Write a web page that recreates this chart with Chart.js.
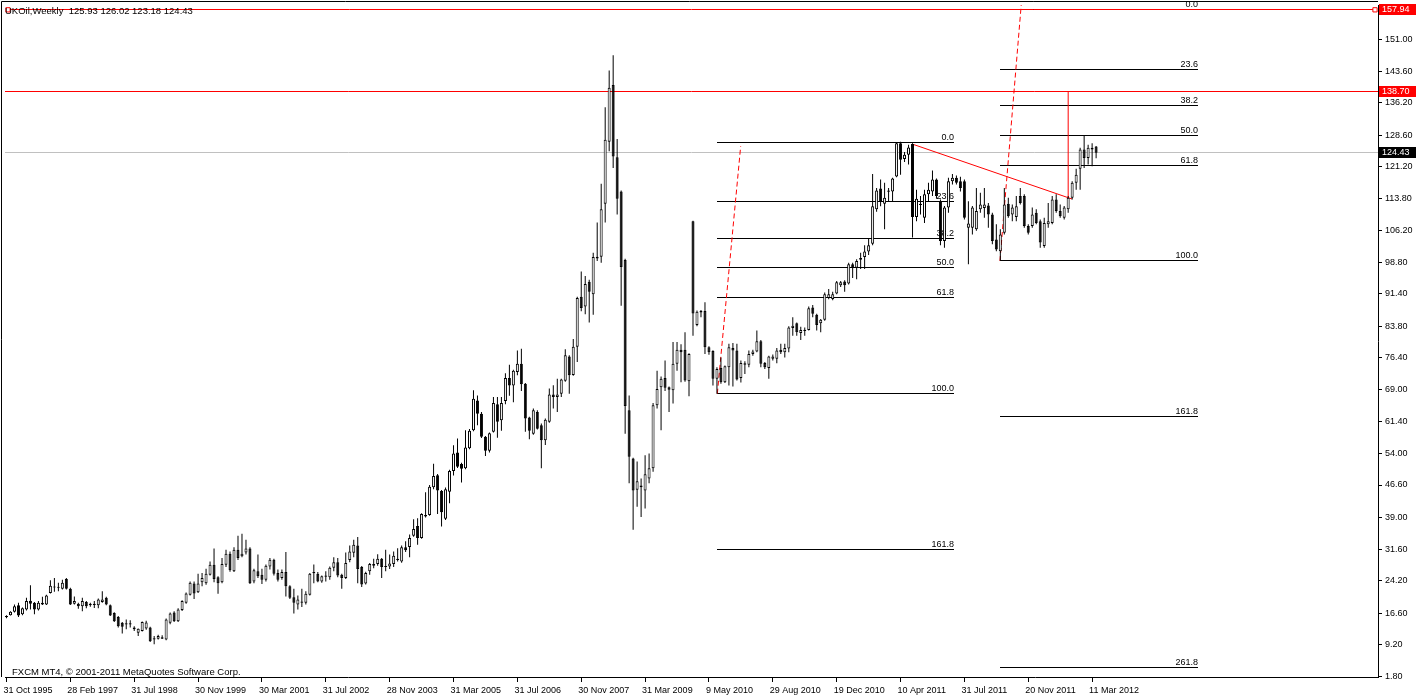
<!DOCTYPE html>
<html>
<head>
<meta charset="utf-8">
<title>UKOil Weekly</title>
<script src="https://cdn.jsdelivr.net/npm/chart.js@4.4.1/dist/chart.umd.min.js"></script>
<style>
  html, body { margin: 0; padding: 0; background: #fff; overflow: hidden; }
  canvas { display: block; }
</style>
</head>
<body>
<canvas id="chart" width="1416" height="697"></canvas>
<script>
// Candle values, one entry per bar (monthly bars first, weekly bars from 2010)
const opens = [
  15.6,16.1,16.9,18.4,16.3,17.4,19.5,19.0,17.4,18.6,
  18.6,21.3,22.6,22.5,22.3,24.6,22.3,18.8,18.8,18.2,
  19.2,18.4,18.5,18.4,19.2,20.2,18.4,16.6,15.7,14.3,
  13.9,14.2,13.2,12.0,12.4,13.0,13.2,10.4,10.6,10.9,
  10.4,14.3,16.7,14.7,17.3,19.0,20.9,23.5,21.5,23.8,
  23.6,25.6,27.9,25.0,23.8,27.9,30.5,26.4,31.4,29.9,
  30.8,31.7,24.0,26.4,25.6,24.4,27.5,29.1,26.0,24.8,
  26.2,22.9,20.3,18.6,19.3,19.0,20.9,26.2,25.8,24.0,
  25.4,25.0,27.2,28.5,25.6,24.8,29.0,30.7,32.4,27.4,
  23.5,26.4,27.7,28.1,29.3,27.6,27.5,28.1,29.3,28.7,
  32.0,32.1,34.7,37.0,34.2,39.6,39.6,46.1,48.9,45.2,
  38.7,45.0,49.9,54.2,51.5,50.5,55.2,59.4,66.4,63.3,
  57.9,54.6,59.1,65.5,61.8,66.3,71.7,69.9,73.1,75.0,
  70.3,62.4,58.6,63.7,60.6,57.1,61.4,67.8,67.2,68.0,
  71.0,76.7,72.4,79.0,90.7,88.4,94.2,91.3,99.7,100.1,
  112.5,127.0,140.3,123.4,115.4,99.3,64.1,52.8,45.5,46.1,
  45.3,48.1,50.5,65.3,69.5,71.7,69.5,68.8,75.0,78.3,
  78.3,70.9,108.4,84.1,87.4,87.4,78.9,78.0,71.5,74.0,
  70.7,74.2,78.7,78.1,71.7,74.8,74.8,77.3,77.9,80.3,
  75.2,74.0,76.2,76.2,78.3,77.7,78.6,83.4,84.5,82.2,
  83.0,82.9,88.2,86.5,84.5,85.3,90.4,90.2,91.5,93.4,
  94.3,93.8,98.3,97.5,99.4,100.0,101.3,103.1,111.2,116.1,
  112.5,115.3,115.4,118.9,126.7,123.0,124.0,126.5,109.4,112.2,
  109.2,114.7,115.4,118.2,113.1,103.8,111.6,117.8,118.6,117.8,
  117.8,106.9,106.9,106.5,111.2,111.5,112.1,110.0,104.1,101.4,
  105.7,112.5,110.0,109.4,114.3,114.3,107.3,107.3,110.4,108.4,
  102.6,107.7,108.0,113.5,110.8,109.2,111.2,113.9,117.4,120.7,
  125.2,123.2,125.2,125.93
];
const highs = [
  16.1,17.0,18.6,19.0,17.9,20.2,23.1,19.2,19.4,20.4,
  20.9,24.3,24.8,23.7,24.4,24.8,22.5,20.5,19.0,20.2,
  19.4,19.0,19.4,20.0,21.7,20.4,18.6,16.8,15.9,14.5,
  15.1,14.9,13.5,13.0,14.6,14.8,13.4,11.2,11.5,11.4,
  15.3,16.7,17.0,17.7,19.6,21.4,24.0,24.0,25.8,26.0,
  27.0,28.7,31.7,25.2,29.5,31.4,31.0,32.0,34.7,35.2,
  33.8,32.0,27.0,30.3,27.0,28.0,29.5,29.3,26.8,26.8,
  30.9,23.1,22.3,20.7,22.3,21.7,26.0,28.0,26.2,25.4,
  26.4,27.5,29.7,29.5,25.8,30.8,32.4,33.8,34.4,27.6,
  26.3,28.3,29.3,30.4,29.5,31.4,30.3,31.0,31.8,32.4,
  33.4,35.0,38.6,38.8,40.0,44.9,46.6,51.6,49.2,45.4,
  46.0,50.2,55.9,57.5,51.8,59.4,59.7,68.8,67.6,63.7,
  58.1,58.9,67.2,67.2,67.2,72.8,74.8,73.6,78.1,78.5,
  70.5,62.6,64.5,64.1,61.0,62.2,69.2,70.0,71.5,71.5,
  78.4,77.0,80.8,90.7,96.6,95.6,94.7,101.0,108.1,117.2,
  135.1,143.7,147.3,127.7,115.6,99.6,67.6,53.0,52.1,48.1,
  53.6,54.0,65.8,73.4,72.0,75.8,69.7,80.1,80.1,79.6,
  82.4,77.5,108.5,87.5,87.6,89.4,79.1,78.2,74.2,76.5,
  74.6,79.7,79.9,79.7,75.8,75.6,78.1,78.3,82.8,80.6,
  75.4,76.9,77.2,78.7,79.7,79.7,83.8,85.9,84.7,83.7,
  83.5,88.4,88.8,86.7,85.5,91.7,92.5,91.9,94.4,94.4,
  94.6,98.7,98.7,99.5,101.0,102.8,104.4,119.5,116.2,118.2,
  117.4,116.2,118.6,126.9,127.0,124.6,126.3,126.7,115.8,114.3,
  115.8,117.4,120.3,118.4,113.5,112.0,118.6,119.5,119.1,118.8,
  118.2,113.1,112.0,116.2,115.1,116.2,112.7,110.4,107.7,106.5,
  116.2,113.9,112.3,114.3,116.2,114.7,107.7,111.6,111.2,108.8,
  109.2,112.7,114.3,114.7,112.3,112.0,114.3,117.8,120.7,125.6,
  128.5,126.3,126.7,126.02
];
const lows = [
  15.4,16.0,16.7,15.7,16.1,17.2,17.4,16.3,17.2,18.5,
  18.5,21.2,21.6,21.7,22.1,22.1,18.5,18.6,17.6,17.0,
  17.7,18.1,17.8,17.7,19.0,18.4,15.9,14.5,13.2,11.8,
  12.8,13.2,12.4,11.2,12.3,12.7,9.8,9.3,10.4,10.5,
  10.2,14.0,14.5,14.5,17.1,18.8,20.7,19.9,21.3,22.9,
  23.2,25.4,23.8,21.1,23.6,27.4,26.3,26.2,29.0,29.7,
  30.3,23.4,23.6,24.8,23.4,24.0,26.8,25.4,24.0,24.4,
  20.5,19.9,16.5,17.4,18.0,18.6,20.7,23.6,23.8,23.7,
  24.0,24.4,26.4,25.0,22.3,24.6,28.5,29.7,23.6,22.7,
  23.3,25.6,27.1,27.7,24.8,26.4,26.9,27.4,28.7,28.4,
  30.9,29.7,34.5,32.6,34.0,39.0,39.4,45.6,39.8,36.9,
  38.4,42.3,48.8,50.6,47.2,50.3,55.0,59.2,60.6,57.6,
  53.4,54.2,58.9,57.7,59.3,65.5,67.5,66.0,72.3,68.6,
  59.1,57.3,58.4,59.6,50.5,56.0,61.2,64.5,63.7,67.2,
  70.8,68.0,72.2,75.4,87.3,86.6,84.7,86.5,99.1,98.7,
  108.1,124.8,120.9,110.0,88.6,58.6,47.0,36.1,41.5,39.1,
  41.1,47.0,49.7,64.5,59.4,68.6,63.7,65.7,73.4,70.7,
  70.8,67.4,81.6,83.8,85.9,77.3,77.1,69.9,68.0,70.3,
  70.5,69.9,69.7,71.1,70.6,72.6,74.2,76.9,77.7,74.2,
  73.8,71.5,75.8,75.1,77.3,76.5,77.7,81.6,81.6,80.6,
  81.6,82.8,85.9,82.8,82.4,85.1,90.1,89.9,91.3,93.0,
  91.9,93.6,95.1,94.8,97.2,97.2,100.5,102.8,110.6,111.9,
  106.5,113.1,113.1,118.7,119.3,122.3,121.7,104.6,108.4,110.0,
  108.0,113.1,114.3,113.7,102.8,102.2,110.4,117.0,117.0,115.4,
  108.8,98.3,105.3,106.2,110.4,109.2,106.9,103.0,101.4,99.1,
  105.3,109.2,108.4,108.4,112.3,106.9,105.3,106.9,107.7,102.2,
  102.2,106.9,107.7,110.4,109.2,108.8,110.4,113.5,115.8,115.8,
  120.9,121.7,121.3,123.18
];
const closes = [
  15.9,16.9,18.2,16.0,17.7,19.4,18.8,17.4,19.0,19.0,
  20.7,23.0,22.8,22.7,23.7,22.3,18.6,19.4,18.2,19.4,
  18.2,18.8,18.8,19.8,19.8,18.6,16.0,14.7,13.5,13.4,
  14.2,13.9,12.8,12.9,14.5,14.4,10.0,10.7,11.2,10.6,
  15.1,16.5,14.7,17.4,19.4,21.2,23.7,21.2,23.5,24.8,
  25.8,27.9,24.6,23.6,28.1,30.5,26.6,31.4,29.5,30.5,
  31.7,23.6,26.6,25.2,24.4,27.7,29.1,25.8,24.4,26.2,
  22.9,20.2,19.0,19.8,19.0,21.1,25.8,25.9,24.0,25.2,
  25.1,27.2,28.5,25.4,24.8,28.3,31.0,32.6,26.9,23.3,
  26.0,28.1,28.1,29.3,27.4,27.4,28.2,30.0,29.0,32.0,
  31.3,34.2,36.3,34.2,39.8,39.2,46.2,48.7,45.3,40.2,
  45.6,49.9,54.0,50.9,50.4,55.4,59.3,66.8,63.3,57.9,
  54.6,58.7,65.8,61.4,65.8,71.7,69.9,73.4,75.0,70.2,
  62.2,59.3,64.1,59.8,57.1,61.9,67.8,67.2,67.8,71.3,
  77.0,72.3,79.0,90.4,88.1,93.7,91.9,100.0,100.1,111.2,
  127.5,139.7,123.6,113.7,97.7,65.1,53.2,45.3,47.5,46.5,
  49.1,50.5,65.3,69.1,71.5,69.4,68.9,75.0,78.3,77.7,
  71.1,77.3,86.8,87.2,87.0,78.9,77.7,71.5,73.8,70.7,
  74.4,78.9,78.1,71.3,75.2,75.1,77.3,77.9,80.3,75.0,
  74.2,76.7,76.7,78.1,77.7,78.7,83.5,83.9,82.4,82.9,
  82.7,88.0,86.7,84.1,85.3,91.3,91.3,91.3,94.1,94.1,
  93.4,98.3,97.5,99.1,99.8,101.3,102.8,111.9,115.6,113.1,
  113.9,115.6,118.4,126.7,122.8,124.0,125.7,109.4,113.7,112.5,
  114.7,115.8,118.2,114.3,103.8,111.6,117.8,118.6,117.4,116.2,
  109.2,107.9,111.6,110.8,112.3,112.3,110.0,103.8,101.8,105.3,
  112.3,109.6,111.6,111.9,112.7,107.3,105.7,110.0,108.0,103.4,
  108.0,108.4,113.5,110.8,109.6,111.6,113.9,117.4,119.3,125.2,
  123.2,125.6,125.6,124.43
];

// Date labels, one every 16 bars
const dateLabels = [
  '31 Oct 1995', '28 Feb 1997', '31 Jul 1998', '30 Nov 1999', '30 Mar 2001',
  '31 Jul 2002', '28 Nov 2003', '31 Mar 2005', '31 Jul 2006', '30 Nov 2007',
  '31 Mar 2009', '9 May 2010', '29 Aug 2010', '19 Dec 2010', '10 Apr 2011',
  '31 Jul 2011', '20 Nov 2011', '11 Mar 2012'
];
const dateStep = 16;

const priceTicks = [
  1.80, 9.20, 16.60, 24.20, 31.60, 39.00, 46.60, 54.00, 61.40, 69.00, 76.40,
  83.80, 91.40, 98.80, 106.20, 113.80, 121.20, 128.60, 136.20, 143.60, 151.00
];

// Horizontal levels
const topLevel = 157.94;
const spikeLevel = 138.70;
const lastBid = 124.43;

// Fibonacci retracements (bar index span, high, low, levels)
const fibA = { from: 178.1, to: 237.4, high: 126.9, low: 68.0, levels: [0, 23.6, 38.2, 50, 61.8, 100, 161.8] };
const fibB = { from: 248.9, to: 298.6, high: 157.94, low: 99.1, levels: [0, 23.6, 38.2, 50, 61.8, 100, 161.8, 261.8] };

// Drawn lines (bar index, price)
const dashA = [{ x: 178.1, y: 68.0 }, { x: 183.95, y: 126.0 }];
const dashB = [{ x: 248.9, y: 99.1 }, { x: 254.3, y: 159.8 }];
const trendLine = [{ x: 226.9, y: 126.5 }, { x: 267.0, y: 113.6 }];
const spikeLine = [{ x: 266, y: 113.8 }, { x: 266, y: 138.7 }];
const topLineEnds = [{ x: 0.375, y: topLevel }, { x: 342.875, y: topLevel }];

const FONT = '"Liberation Sans", Arial, sans-serif';
Chart.defaults.font.family = FONT;
Chart.defaults.font.size = 9;
Chart.defaults.color = '#000';

const idx = opens.map((_, i) => i);
const last = opens.length - 1;

const wickData = idx.map(i => ({ x: i, y: [lows[i], highs[i]] }));
const bodyData = idx.map(i => ({ x: i, y: [opens[i], closes[i]] }));
const bodyColors = idx.map(i => closes[i] >= opens[i] ? '#ffffff' : '#000000');

function fibPrice(f, lv) {
    return f.high - (f.high - f.low) * lv / 100;
}

const overlay = {
    id: 'overlay',
    beforeDatasetsDraw(chart) {
        const { ctx, chartArea: area, scales: { x, y } } = chart;
        const rowY = v => Math.floor(y.getPixelForValue(v)) + 0.5;
        const hline = (v, i0, i1, color) => {
            const py = rowY(v);
            ctx.beginPath();
            ctx.moveTo(Math.round(x.getPixelForValue(i0)), py);
            ctx.lineTo(Math.round(x.getPixelForValue(i1)), py);
            ctx.strokeStyle = color;
            ctx.stroke();
        };

        ctx.save();
        ctx.beginPath();
        ctx.rect(area.left, area.top, area.right - area.left, area.bottom - area.top);
        ctx.clip();
        ctx.lineWidth = 1;
        hline(lastBid, x.min, x.max, '#c0c0c0');
        hline(spikeLevel, x.min, x.max, '#ff0000');
        [fibA, fibB].forEach(f => {
            f.levels.forEach(lv => hline(fibPrice(f, lv), f.from, f.to, '#000000'));
        });
        hline(topLevel, topLineEnds[0].x, topLineEnds[1].x, '#ff0000');
        ctx.restore();

        // level captions sit above the right end of each line
        ctx.save();
        ctx.font = '9px ' + FONT;
        ctx.fillStyle = '#000';
        ctx.textAlign = 'right';
        ctx.textBaseline = 'alphabetic';
        [fibA, fibB].forEach(f => {
            const px = Math.round(x.getPixelForValue(f.to));
            f.levels.forEach(lv => {
                ctx.fillText(lv.toFixed(1), px, rowY(fibPrice(f, lv)) - 2.5);
            });
        });
        ctx.restore();
    },
    afterDraw(chart) {
        const { ctx, chartArea: area, scales: { y } } = chart;
        ctx.save();

        // plot frame, top and left sides
        ctx.strokeStyle = '#000';
        ctx.lineWidth = 1;
        ctx.beginPath();
        ctx.moveTo(1.5, area.bottom);
        ctx.lineTo(1.5, 1.5);
        ctx.lineTo(area.right, 1.5);
        ctx.stroke();

        // price tags on the axis
        const tag = (v, bg) => {
            const py = Math.floor(y.getPixelForValue(v));
            ctx.fillStyle = bg;
            ctx.fillRect(area.right + 1, py - 5, chart.width - area.right - 1, 11);
            ctx.fillStyle = '#fff';
            ctx.font = '9px ' + FONT;
            ctx.textAlign = 'left';
            ctx.textBaseline = 'middle';
            ctx.fillText(v.toFixed(2), area.right + 4, py + 1);
        };
        tag(topLevel, '#ff0000');
        tag(spikeLevel, '#ff0000');
        tag(lastBid, '#000000');

        // symbol header and footer
        ctx.fillStyle = '#000';
        ctx.font = '9.5px ' + FONT;
        ctx.textAlign = 'left';
        ctx.textBaseline = 'alphabetic';
        const header = 'UKOil,Weekly  ' + [opens, highs, lows, closes].map(a => a[last].toFixed(2)).join(' ');
        ctx.fillText(header, 5, 14);
        ctx.fillText('FXCM MT4, \u00a9 2001-2011 MetaQuotes Software Corp.', 12, 675);
        ctx.restore();
    }
};

const lineDefaults = {
    type: 'line',
    borderColor: '#ff0000',
    borderWidth: 1,
    pointRadius: 0,
    fill: false,
    tension: 0,
    clip: 0,
    order: 3
};

new Chart(document.getElementById('chart'), {
    type: 'bar',
    data: {
        datasets: [
            { ...lineDefaults, data: dashA, borderDash: [5, 3] },
            { ...lineDefaults, data: dashB, borderDash: [5, 3] },
            { ...lineDefaults, data: trendLine },
            { ...lineDefaults, data: spikeLine },
            {
                type: 'bar',
                data: wickData,
                backgroundColor: '#000',
                borderWidth: 0,
                barThickness: 1,
                inflateAmount: 0,
                grouped: false,
                order: 2
            },
            {
                type: 'bar',
                data: bodyData,
                backgroundColor: bodyColors,
                borderColor: '#000',
                borderWidth: 1,
                borderSkipped: false,
                barThickness: 3,
                minBarLength: 1,
                inflateAmount: 0,
                grouped: false,
                order: 1
            },
            {
                type: 'line',
                data: topLineEnds,
                showLine: false,
                pointStyle: 'rect',
                pointRadius: 3,
                pointBorderWidth: 1,
                pointBorderColor: '#ff0000',
                pointBackgroundColor: '#ffffff',
                order: 0
            }
        ]
    },
    options: {
        responsive: false,
        animation: false,
        events: [],
        layout: { padding: { left: 2, top: 2, right: 0, bottom: 0 } },
        plugins: {
            legend: { display: false },
            tooltip: { enabled: false }
        },
        scales: {
            x: {
                type: 'linear',
                min: -0.375,
                max: 343.625,
                offset: false,
                afterFit: s => { s.height = 20; s.paddingLeft = 0; s.paddingRight = 0; },
                afterBuildTicks: s => { s.ticks = dateLabels.map((_, k) => ({ value: k * dateStep })); },
                grid: { offset: false, drawOnChartArea: false, drawTicks: true, tickLength: 5, color: '#000' },
                border: { display: true, color: '#000' },
                ticks: {
                    autoSkip: false,
                    maxRotation: 0,
                    align: 'start',
                    padding: 3,
                    labelOffset: -3,
                    callback: v => dateLabels[Math.round(v / dateStep)]
                }
            },
            y: {
                type: 'linear',
                position: 'right',
                min: 1.613,
                max: 159.07,
                beginAtZero: false,
                afterFit: s => { s.width = 38; s.paddingTop = 0; s.paddingBottom = 0; },
                afterBuildTicks: s => { s.ticks = priceTicks.map(v => ({ value: v })); },
                grid: { drawOnChartArea: false, drawTicks: true, tickLength: 4, color: '#000' },
                border: { display: true, color: '#000' },
                ticks: {
                    autoSkip: false,
                    padding: 3,
                    callback: v => v.toFixed(2)
                }
            }
        }
    },
    plugins: [overlay]
});
</script>
</body>
</html>
